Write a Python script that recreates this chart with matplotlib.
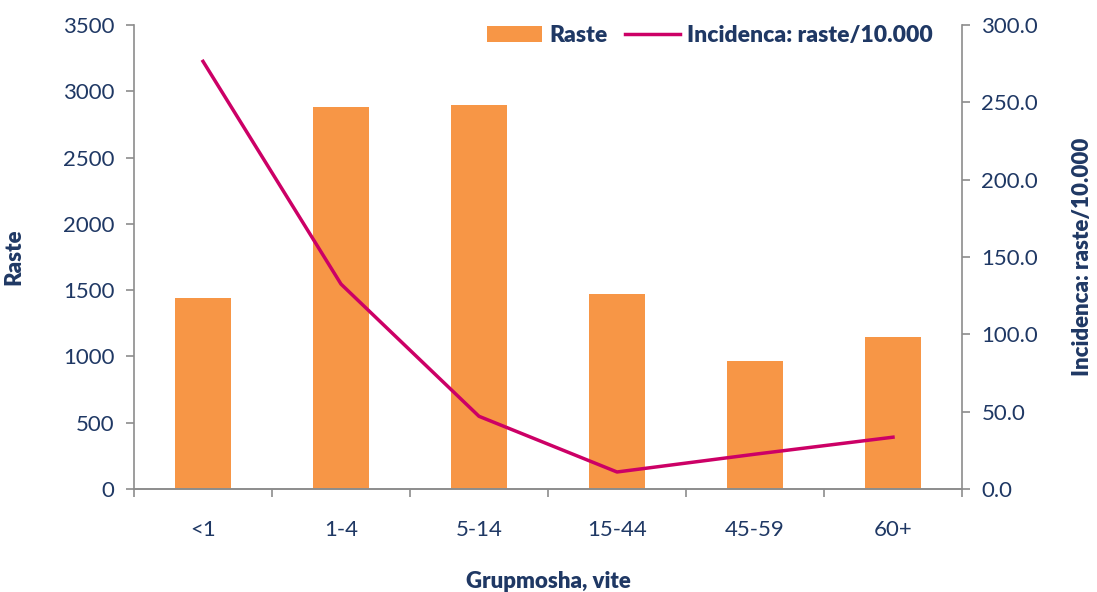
import matplotlib
matplotlib.use("Agg")
import matplotlib.pyplot as plt
import numpy as np
from matplotlib.ticker import FixedLocator, FormatStrFormatter

categories = ["<1", "1-4", "5-14", "15-44", "45-59", "60+"]
raste = [1440, 2880, 2900, 1470, 965, 1145]
incidenca = [276.5, 132.5, 47.0, 11.0, 22.5, 33.5]

navy = "#1F3864"
orange = "#F79646"
magenta = "#CC0066"
gray = "#8C8C8C"
plt.rcParams['font.family'] = ['Lato', 'DejaVu Sans']

fig = plt.figure(figsize=(10.97, 5.92), dpi=100)
ax = fig.add_axes([134/1097, 1-489/592, (962-134)/1097, (489-25)/592])
ax2 = ax.twinx()

x = np.arange(len(categories))
ax.bar(x, raste, width=0.4, color=orange, label="Raste", zorder=2)
ax2.plot(x, incidenca, color=magenta, lw=2.5, label="Incidenca: raste/10.000", zorder=3)

ax.set_xlim(-0.5, len(categories) - 0.5)
ax.set_ylim(0, 3500)
ax2.set_ylim(0, 300)
ax.set_yticks(np.arange(0, 3501, 500))
ax2.set_yticks(np.arange(0, 301, 50))
ax2.yaxis.set_major_formatter(FormatStrFormatter('%.1f'))

fs = 16
ax.set_xticks(x)
ax.set_xticklabels(categories)
ax.xaxis.set_minor_locator(FixedLocator(np.arange(-0.5, len(categories), 1)))
ax.tick_params(axis='x', which='major', length=0, pad=22, labelsize=fs, labelcolor=navy)
ax.tick_params(axis='x', which='minor', length=6, direction='out', color=gray, width=1.2)
ax.tick_params(axis='y', length=6, direction='out', color=gray, width=1.2, labelsize=fs, labelcolor=navy, pad=8)
ax2.tick_params(axis='y', length=6, direction='out', color=gray, width=1.2, labelsize=fs, labelcolor=navy, pad=8)

for a in (ax, ax2):
    a.spines['top'].set_visible(False)
    for s in ('left', 'right', 'bottom'):
        a.spines[s].set_color(gray)
        a.spines[s].set_linewidth(1.2)
ax2.spines['left'].set_visible(False)
ax.spines['right'].set_visible(False)

ax.set_xlabel("Grupmosha, vite", fontsize=fs, fontweight='heavy', color=navy, labelpad=23)
ax.set_ylabel("Raste", fontsize=fs, fontweight='heavy', color=navy, labelpad=28)
ax2.set_ylabel("Incidenca: raste/10.000", fontsize=fs, fontweight='heavy', color=navy, labelpad=24)

h1, l1 = ax.get_legend_handles_labels()
h2, l2 = ax2.get_legend_handles_labels()
leg = ax2.legend(h1 + h2, l1 + l2, loc='upper right', bbox_to_anchor=(0.99, 1.045), frameon=False,
                 ncol=2, fontsize=16.5, handlelength=2.4, columnspacing=0.8, handletextpad=0.3)
for t in leg.get_texts():
    t.set_color(navy)
    t.set_fontweight('heavy')

fig.savefig("out.png", dpi=100)
